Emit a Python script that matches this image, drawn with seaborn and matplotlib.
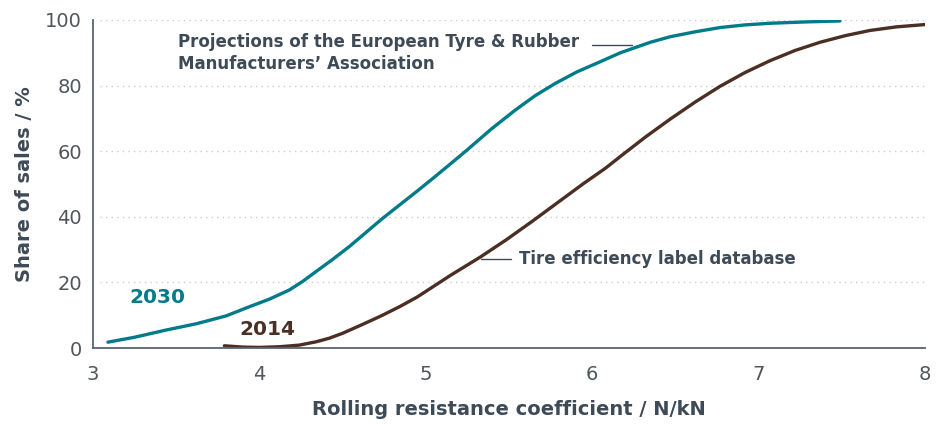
import numpy as np
import pandas as pd
import matplotlib
matplotlib.use("Agg")
import matplotlib.pyplot as plt
import seaborn as sns

# values
rrc_2030 = [3.09, 3.25, 3.44, 3.62, 3.80, 3.94, 4.06, 4.18, 4.26, 4.34, 4.44, 4.54, 4.64, 4.74,
            4.88, 4.95, 5.05, 5.15, 5.24, 5.40, 5.54, 5.66, 5.78, 5.91, 6.05, 6.17, 6.35, 6.47,
            6.62, 6.77, 6.92, 7.07, 7.28, 7.49]
share_2030 = [1.8, 3.3, 5.5, 7.4, 9.8, 12.6, 14.9, 17.7, 20.3, 23.3, 27.0, 30.9, 35.2, 39.5,
              45.1, 47.9, 52.0, 56.2, 60.0, 67.0, 72.6, 77.0, 80.7, 84.2, 87.3, 90.0, 93.2, 94.9,
              96.4, 97.7, 98.5, 99.0, 99.4, 99.7]

rrc_2014 = [3.79, 3.90, 4.00, 4.12, 4.24, 4.34, 4.42, 4.50, 4.62, 4.74, 4.85, 4.95, 5.05, 5.15,
            5.33, 5.49, 5.65, 5.80, 5.95, 6.08, 6.18, 6.32, 6.47, 6.62, 6.77, 6.92, 7.07, 7.22,
            7.37, 7.52, 7.67, 7.83, 8.00]
share_2014 = [0.7, 0.3, 0.2, 0.4, 0.9, 1.9, 3.0, 4.5, 7.2, 10.0, 12.8, 15.6, 18.9, 22.2,
              27.8, 33.2, 39.0, 44.6, 50.2, 54.8, 58.8, 64.3, 69.8, 75.0, 79.8, 84.0, 87.6, 90.7,
              93.2, 95.2, 96.8, 97.9, 98.6]

teal = "#007b8a"
brown = "#4b2e24"
txt = "#3e4a56"

df = pd.concat([
    pd.DataFrame({"rrc": rrc_2030, "share": share_2030, "year": "2030"}),
    pd.DataFrame({"rrc": rrc_2014, "share": share_2014, "year": "2014"}),
])

sns.set_style("white")
plt.rcParams["font.family"] = ["DejaVu Sans"]

fig = plt.figure(figsize=(9.41, 4.25), dpi=100)
ax = fig.add_axes([0.0988, 0.181, 0.884, 0.772])

sns.lineplot(data=df, x="rrc", y="share", hue="year", palette={"2030": teal, "2014": brown},
             linewidth=2.4, legend=False, ax=ax, sort=True)
for ln in ax.lines:
    ln.set_solid_capstyle("round")
    ln.set_solid_joinstyle("round")

ax.set_xlim(3, 8)
ax.set_ylim(0, 100)
ax.set_xticks([3, 4, 5, 6, 7, 8])
ax.set_yticks([0, 20, 40, 60, 80, 100])
for yv in [20, 40, 60, 80, 100]:
    ax.plot([3.04, 8], [yv, yv], color="#c8ccd0", linestyle=(0, (1, 3)), linewidth=1, zorder=0)

ax.tick_params(axis="both", length=0, labelsize=14, labelcolor="#50565c", pad=8)
ax.tick_params(axis="x", pad=12)

for s in ["top", "right"]:
    ax.spines[s].set_visible(False)
for s in ["left", "bottom"]:
    ax.spines[s].set_color("#5a6570")
    ax.spines[s].set_linewidth(1.3)

ax.set_xlabel("Rolling resistance coefficient / N/kN", fontsize=14, color=txt,
              fontweight="bold", labelpad=12)
ax.set_ylabel("Share of sales / %", fontsize=14, color=txt, fontweight="bold", labelpad=8)

ax.text(3.51, 93.4, "Projections of the European Tyre & Rubber", fontsize=12, color=txt,
        fontweight="bold", va="center", ha="left")
ax.text(3.51, 86.6, "Manufacturers\u2019 Association", fontsize=12, color=txt,
        fontweight="bold", va="center", ha="left")
ax.plot([6.0, 6.24], [92.4, 92.4], color=txt, linewidth=1)

ax.plot([5.33, 5.51], [27.1, 27.1], color=txt, linewidth=1)
ax.text(5.56, 27.3, "Tire efficiency label database", fontsize=12, color=txt,
        fontweight="bold", va="center", ha="left")

ax.text(3.22, 15.5, "2030", fontsize=14.5, color=teal, fontweight="bold", va="center", ha="left")
ax.text(3.88, 5.8, "2014", fontsize=14.5, color=brown, fontweight="bold", va="center", ha="left")

fig.savefig("out.png", dpi=100)
